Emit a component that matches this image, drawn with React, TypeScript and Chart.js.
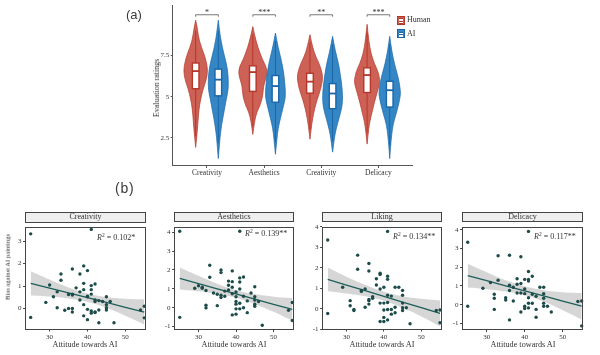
import React, { useEffect, useRef } from "react";
import { Chart, registerables } from "chart.js";
Chart.register(...registerables);

const SERIF = "'Liberation Serif', 'Times New Roman', serif";
const SANS = "'Liberation Sans', Arial, sans-serif";

// ---------------- (a) violin plot data ----------------
const categories = ["Creativity", "Aesthetics", "Creativity", "Delicacy"];
const categoryPositions = [1, 2, 3, 4];
const groups = ["Human", "AI"];
const sigLabels = ["*", "***", "**", "***"];
const topYTicks = [2.5, 5, 7.5];

// order: Human Creativity, AI Creativity, Human Aesthetics, AI Aesthetics, Human Creativity, AI Creativity, Human Delicacy, AI Delicacy
const violinLevels = [
  [1.93, 2.72, 3.5, 4.28, 4.86, 5.45, 6.04, 6.62, 7.21, 7.6, 8.38, 9.16, 9.65],
  [1.25, 1.74, 2.52, 3.31, 4.08, 4.86, 5.45, 6.04, 6.62, 7.21, 7.99, 8.77, 9.65],
  [2.72, 3.5, 4.08, 4.48, 5.06, 5.65, 6.04, 6.43, 6.82, 7.21, 7.99, 8.77, 9.26],
  [1.51, 2.33, 3.11, 3.69, 4.28, 4.86, 5.26, 5.84, 6.43, 7.21, 7.99, 8.87],
  [2.43, 3.11, 3.69, 4.28, 4.86, 5.45, 6.04, 6.43, 7.01, 7.41, 7.99, 8.77],
  [1.64, 2.13, 2.72, 3.31, 3.89, 4.48, 5.06, 5.65, 6.23, 7.01, 7.79, 8.67],
  [2.13, 2.91, 3.5, 4.08, 4.67, 5.26, 5.74, 6.04, 6.53, 7.01, 7.6, 8.38, 9.4],
  [1.25, 2.13, 2.72, 3.31, 3.89, 4.48, 5.06, 5.36, 5.94, 6.43, 7.01, 7.79, 8.67],
];
const violinHalfWidths = [
  [0, 0.023, 0.041, 0.058, 0.088, 0.128, 0.187, 0.213, 0.18, 0.146, 0.061, 0.03, 0],
  [0, 0.012, 0.029, 0.058, 0.099, 0.14, 0.175, 0.175, 0.163, 0.128, 0.07, 0.03, 0],
  [0, 0.03, 0.07, 0.128, 0.175, 0.187, 0.222, 0.25, 0.234, 0.175, 0.088, 0.03, 0],
  [0, 0.023, 0.047, 0.088, 0.128, 0.17, 0.175, 0.163, 0.146, 0.105, 0.047, 0],
  [0, 0.023, 0.047, 0.082, 0.128, 0.187, 0.222, 0.216, 0.163, 0.105, 0.047, 0],
  [0, 0.018, 0.041, 0.082, 0.128, 0.17, 0.175, 0.163, 0.14, 0.105, 0.047, 0],
  [0, 0.023, 0.047, 0.088, 0.128, 0.175, 0.216, 0.222, 0.193, 0.128, 0.07, 0.03, 0],
  [0, 0.018, 0.035, 0.058, 0.105, 0.152, 0.187, 0.187, 0.163, 0.128, 0.082, 0.035, 0],
];
const boxQ1 = [5.49, 5.06, 5.33, 4.67, 5.22, 4.28, 5.26, 4.38];
const boxMedian = [6.56, 6.04, 6.5, 5.65, 5.92, 5.2, 6.32, 5.4];
const boxQ3 = [7.05, 6.68, 6.88, 6.29, 6.43, 5.8, 6.76, 5.94];
const whiskerLow = [2.6, 2.2, 3.2, 2.2, 3.0, 2.3, 2.8, 2.0];
const whiskerHigh = [9.0, 9.0, 8.8, 8.4, 8.3, 8.2, 8.9, 8.2];
const SIG_Y = 9.98;

// ---------------- (b) scatter data ----------------
const panelTitles = ["Creativity", "Aesthetics", "Liking", "Delicacy"];
const r2Labels = ["0.102*", "0.139**", "0.134**", "0.117**"];
const xTicks = [30, 40, 50];

const creativityAttitude = [25, 25, 41, 30, 29, 31, 32, 32, 33, 33, 34, 35, 36, 36, 36, 35, 36, 36, 37, 38, 38, 38, 39, 39, 39, 39, 39, 40, 40, 40, 41, 41, 41, 41, 41, 40, 42, 42, 42, 42, 42, 43, 43, 43, 44, 45, 45, 45, 45, 46, 47, 54, 55, 55, 40];
const creativityBias = [3.33, -0.4, 3.53, 1.05, 0.27, 0.52, 0.74, 0.03, 1.54, 1.26, -0.08, 0.0, 0.0, -0.16, 1.76, 0.62, 0.64, 0.6, 0.92, 0.38, 0.74, 1.54, 1.9, 1.12, 0.84, 0.17, -0.33, 1.69, -0.5, -0.04, -0.11, -0.21, 0.84, 0.64, 1.02, 0.52, 0.31, 1.09, -0.16, -0.18, 0.38, -0.07, -0.64, 0.35, 0.31, 0.52, 0.17, 0.03, -0.07, 0.31, -0.64, -0.07, 0.1, -0.42, 0.55];

const aestheticsAttitude = [25, 25, 41, 29, 30, 31, 31, 32, 32, 32, 33, 33, 34, 35, 35, 36, 36, 36, 36, 37, 38, 38, 38, 39, 39, 39, 39, 39, 40, 40, 40, 40, 40, 40, 41, 41, 41, 41, 41, 42, 42, 42, 43, 43, 44, 45, 45, 45, 45, 45, 46, 47, 54, 55, 55, 37];
const aestheticsBias = [4.05, -0.51, 4.05, 1.03, 1.16, 1.08, 1.03, 0.91, 0.13, -0.01, 2.25, 1.61, 0.78, 0.71, 0.11, 2.0, 1.86, 0.54, 0.66, 0.88, 1.41, 1.19, 0.94, 1.95, 1.38, 1.08, 0.74, -0.38, 0.83, 0.58, 0.33, 0.19, -0.06, -0.34, 0.99, 1.58, 1.36, 0.24, -0.06, 1.63, 0.61, 0.0, 0.36, -0.26, 0.78, 1.11, 0.58, 0.41, 0.19, 0.08, 0.33, -0.93, -0.14, 0.28, -0.68, 0.61];

const likingAttitude = [25, 25, 41, 29, 31, 31, 32, 32, 33, 33, 34, 34, 35, 35, 36, 36, 36, 36, 37, 38, 38, 39, 39, 39, 39, 39, 40, 40, 40, 40, 41, 41, 41, 41, 41, 41, 42, 42, 42, 43, 43, 43, 44, 45, 45, 45, 45, 45, 46, 47, 54, 55, 55, 40, 37, 36];
const likingBias = [3.36, -0.23, 3.78, 1.05, 0.15, 0.4, -0.03, -0.08, 2.62, 1.93, 0.85, 0.9, 0.97, 0.08, 2.21, 1.85, 0.4, 0.23, 0.51, 1.47, 1.16, 1.74, 1.67, 0.97, 0.28, -0.62, 1.05, 0.28, -0.06, -0.42, 1.59, 1.44, 0.66, 0.31, -0.03, -0.54, 0.62, -0.03, -0.26, 1.05, 0.08, -0.19, 1.05, 0.9, 0.66, 0.28, 0.05, -0.08, 0.05, -0.73, -0.08, -0.06, -0.68, -0.62, 0.59, 0.46];

const delicacyAttitude = [25, 25, 41, 29, 31, 32, 32, 32, 33, 33, 35, 35, 36, 36, 36, 36, 37, 37, 38, 38, 39, 39, 39, 39, 40, 40, 40, 40, 41, 41, 41, 41, 41, 41, 42, 42, 42, 43, 43, 44, 45, 45, 45, 45, 45, 46, 47, 54, 55, 55, 38, 43, 40];
const delicacyBias = [3.33, -0.08, 3.91, 0.88, 1.18, 0.56, 0.34, -0.25, 2.61, 1.3, 0.37, 0.25, 2.64, -0.81, 0.76, 1.04, 0.2, 0.93, 1.38, 1.09, 2.56, 1.13, 0.62, -0.39, 0.59, 1.35, -0.08, -0.2, 1.35, 1.26, 1.77, 0.37, -0.17, 0.08, 0.08, 1.52, 0.56, -0.25, -0.67, 0.93, 0.93, 0.59, 0.34, 0.08, -0.08, -0.08, -0.39, 0.17, 0.2, -1.13, 0.62, 0.45, 0.84];

// fitted line and 95% band read at these attitude values
const fitAttitude = [25, 30, 35, 40, 45, 50, 55];
const creativityFit = [1.12, 0.91, 0.69, 0.48, 0.27, 0.05, -0.16];
const creativityUpper = [1.66, 1.29, 0.94, 0.67, 0.51, 0.43, 0.4];
const creativityLower = [0.58, 0.53, 0.44, 0.29, 0.03, -0.33, -0.72];
const aestheticsFit = [1.55, 1.28, 1.0, 0.73, 0.46, 0.18, -0.09];
const aestheticsUpper = [2.13, 1.69, 1.27, 0.93, 0.72, 0.58, 0.51];
const aestheticsLower = [0.97, 0.87, 0.73, 0.53, 0.2, -0.22, -0.69];
const likingFit = [1.44, 1.16, 0.89, 0.61, 0.33, 0.06, -0.22];
const likingUpper = [2.02, 1.57, 1.17, 0.83, 0.61, 0.49, 0.41];
const likingLower = [0.86, 0.75, 0.61, 0.39, 0.05, -0.37, -0.85];
const delicacyFit = [1.55, 1.28, 1.0, 0.74, 0.47, 0.19, -0.08];
const delicacyUpper = [2.18, 1.73, 1.3, 0.98, 0.77, 0.67, 0.62];
const delicacyLower = [0.92, 0.83, 0.7, 0.5, 0.17, -0.29, -0.78];

const panelYTicks = [[0, 1, 2, 3], [-1, 0, 1, 2, 3, 4], [-1, 0, 1, 2, 3, 4], [-1, 0, 1, 2, 3, 4]];
const panelYMin = [-0.94, -1.18, -1.01, -1.35];
const panelYMax = [3.65, 4.29, 4.01, 4.16];
const X_MIN = 23.5;
const X_MAX = 55.4;

const panelAttitudes = [creativityAttitude, aestheticsAttitude, likingAttitude, delicacyAttitude];
const panelBiases = [creativityBias, aestheticsBias, likingBias, delicacyBias];
const panelFits = [creativityFit, aestheticsFit, likingFit, delicacyFit];
const panelUppers = [creativityUpper, aestheticsUpper, likingUpper, delicacyUpper];
const panelLowers = [creativityLower, aestheticsLower, likingLower, delicacyLower];

// ---------------- styling / layout ----------------
const HUMAN_FILL = "rgba(192,57,43,0.8)";
const HUMAN_LINE = "#B5372A";
const AI_FILL = "rgba(30,122,190,0.9)";
const AI_LINE = "#1A66A8";
const DODGE = 0.198;
const BOX_HALF = 0.058;
const POINT_COLOR = "#1C4B49";
const FIT_COLOR = "#1E5E59";
const BAND_COLOR = "rgba(153,153,153,0.4)";
const AXIS_COLOR = "#555";
const TEXT_COLOR = "#333";

const PANEL_BOX = [
  { L: 25.0, R: 145.8, T: 221.5, B: 329.5 },
  { L: 174.1, R: 293.8, T: 221.0, B: 330.0 },
  { L: 322.1, R: 441.5, T: 221.0, B: 329.5 },
  { L: 462.0, R: 583.2, T: 221.0, B: 330.0 },
];
const STRIP_TOP = 211.7;

function smoothSide(ctx: any, pts: number[][], first: boolean) {
  if (first) ctx.moveTo(pts[0][0], pts[0][1]);
  else ctx.lineTo(pts[0][0], pts[0][1]);
  for (let i = 1; i < pts.length - 1; i++) {
    const p = pts[i];
    const n = pts[i + 1];
    ctx.quadraticCurveTo(p[0], p[1], (p[0] + n[0]) / 2, (p[1] + n[1]) / 2);
  }
  const last = pts[pts.length - 1];
  ctx.lineTo(last[0], last[1]);
}

const violinPlugin = {
  id: "violins",
  afterDatasetsDraw(chart: any) {
    const { ctx } = chart;
    const x = chart.scales.x;
    const y = chart.scales.y;
    ctx.save();
    for (let v = 0; v < violinLevels.length; v++) {
      const cat = Math.floor(v / 2);
      const g = v % 2;
      const cx = categoryPositions[cat] + (g === 0 ? -DODGE : DODGE);
      const fill = g === 0 ? HUMAN_FILL : AI_FILL;
      const line = g === 0 ? HUMAN_LINE : AI_LINE;
      const lev = violinLevels[v];
      const hw = violinHalfWidths[v];
      const right = lev.map((l, i) => [x.getPixelForValue(cx + hw[i]), y.getPixelForValue(l)]);
      const left = lev.map((l, i) => [x.getPixelForValue(cx - hw[i]), y.getPixelForValue(l)]).reverse();
      ctx.beginPath();
      smoothSide(ctx, right, true);
      smoothSide(ctx, left, false);
      ctx.closePath();
      ctx.fillStyle = fill;
      ctx.fill();
      ctx.strokeStyle = line;
      ctx.lineWidth = 0.7;
      ctx.stroke();

      const px = x.getPixelForValue(cx);
      ctx.beginPath();
      ctx.moveTo(px, y.getPixelForValue(whiskerLow[v]));
      ctx.lineTo(px, y.getPixelForValue(whiskerHigh[v]));
      ctx.lineWidth = 1;
      ctx.strokeStyle = line;
      ctx.stroke();

      const bl = x.getPixelForValue(cx - BOX_HALF);
      const br = x.getPixelForValue(cx + BOX_HALF);
      const bt = y.getPixelForValue(boxQ3[v]);
      const bb = y.getPixelForValue(boxQ1[v]);
      ctx.fillStyle = "#ffffff";
      ctx.fillRect(bl, bt, br - bl, bb - bt);
      ctx.lineWidth = 1.4;
      ctx.strokeRect(bl, bt, br - bl, bb - bt);
      const my = y.getPixelForValue(boxMedian[v]);
      ctx.beginPath();
      ctx.moveTo(bl, my);
      ctx.lineTo(br, my);
      ctx.lineWidth = 1.8;
      ctx.stroke();
    }
    // significance brackets
    ctx.strokeStyle = "#555";
    ctx.lineWidth = 0.8;
    ctx.fillStyle = TEXT_COLOR;
    ctx.font = `8px ${SERIF}`;
    ctx.textAlign = "center";
    ctx.textBaseline = "alphabetic";
    for (let c = 0; c < categoryPositions.length; c++) {
      const x1 = x.getPixelForValue(categoryPositions[c] - DODGE);
      const x2 = x.getPixelForValue(categoryPositions[c] + DODGE);
      const yb = y.getPixelForValue(SIG_Y);
      const yd = y.getPixelForValue(SIG_Y - 0.12);
      ctx.beginPath();
      ctx.moveTo(x1, yd);
      ctx.lineTo(x1, yb);
      ctx.lineTo(x2, yb);
      ctx.lineTo(x2, yd);
      ctx.stroke();
      ctx.fillText(sigLabels[c], (x1 + x2) / 2, yb + 0.5);
    }
    ctx.restore();
  },
};

const framePlugin = {
  id: "frame",
  afterDraw(chart: any) {
    const { ctx, chartArea: a } = chart;
    ctx.save();
    ctx.strokeStyle = "#444";
    ctx.lineWidth = 1;
    const l = Math.round(a.left) + 0.5;
    const t = Math.round(a.top) + 0.5;
    const r = Math.round(a.right) - 0.5;
    const b = Math.round(a.bottom) - 0.5;
    ctx.strokeRect(l, t, r - l, b - t);
    ctx.restore();
  },
};

function ViolinChart() {
  const ref = useRef<HTMLCanvasElement | null>(null);
  useEffect(() => {
    const chart = new Chart(ref.current as any, {
      type: "scatter",
      data: { datasets: [] },
      options: {
        responsive: false,
        animation: false,
        events: [],
        layout: { padding: { left: 0, right: 7.3, top: 0, bottom: 0 }, autoPadding: false },
        plugins: { legend: { display: false }, tooltip: { enabled: false } },
        scales: {
          x: {
            type: "linear",
            min: 0.4,
            max: 4.6,
            bounds: "data",
            afterBuildTicks: (s: any) => {
              s.ticks = categoryPositions.map((v) => ({ value: v }));
            },
            afterFit: (s: any) => {
              s.height = 20;
            },
            ticks: {
              callback: (_v: any, i: number) => categories[i],
              font: { family: SERIF, size: 7.5 },
              color: TEXT_COLOR,
              padding: 1,
              maxRotation: 0,
              autoSkip: false,
            },
            grid: { drawOnChartArea: false, drawTicks: true, tickLength: 3, color: AXIS_COLOR },
            border: { display: true, color: AXIS_COLOR, width: 1 },
          },
          y: {
            type: "linear",
            min: 0.86,
            max: 10.53,
            bounds: "data",
            afterBuildTicks: (s: any) => {
              s.ticks = topYTicks.map((v) => ({ value: v }));
            },
            afterFit: (s: any) => {
              s.width = 52.7;
            },
            ticks: {
              callback: (v: any) => String(v),
              font: { family: SERIF, size: 7 },
              color: TEXT_COLOR,
              padding: 1.5,
              autoSkip: false,
            },
            grid: { drawOnChartArea: false, drawTicks: true, tickLength: 2, color: AXIS_COLOR },
            border: { display: true, color: AXIS_COLOR, width: 1 },
          },
        },
      },
      plugins: [violinPlugin],
    } as any);
    return () => chart.destroy();
  }, []);
  return (
    <canvas
      ref={ref}
      width={300}
      height={185}
      style={{ position: "absolute", left: 120, top: 0, width: 300, height: 185 }}
    />
  );
}

function ScatterPanel({ i }: { i: number }) {
  const ref = useRef<HTMLCanvasElement | null>(null);
  const box = PANEL_BOX[i];
  const cl = Math.floor(box.L) - 24;
  const ct = Math.floor(box.T);
  const cw = Math.ceil(box.R) + 4 - cl;
  const chh = Math.ceil(box.B) + 16 - ct;
  useEffect(() => {
    const pts = panelAttitudes[i].map((x, k) => ({ x, y: panelBiases[i][k] }));
    const fit = fitAttitude.map((x, k) => ({ x, y: panelFits[i][k] }));
    const up = fitAttitude.map((x, k) => ({ x, y: panelUppers[i][k] }));
    const lo = fitAttitude.map((x, k) => ({ x, y: panelLowers[i][k] }));
    const chart = new Chart(ref.current as any, {
      type: "line",
      data: {
        datasets: [
          {
            data: pts,
            showLine: false,
            pointRadius: 1.7,
            pointBackgroundColor: POINT_COLOR,
            pointBorderWidth: 0,
            borderWidth: 0,
            clip: false,
          },
          {
            data: fit,
            borderColor: FIT_COLOR,
            borderWidth: 1.3,
            pointRadius: 0,
            fill: false,
            tension: 0,
          },
          {
            data: up,
            borderWidth: 0,
            borderColor: "rgba(0,0,0,0)",
            pointRadius: 0,
            fill: "+1",
            backgroundColor: BAND_COLOR,
            tension: 0.4,
          },
          {
            data: lo,
            borderWidth: 0,
            borderColor: "rgba(0,0,0,0)",
            pointRadius: 0,
            fill: false,
            tension: 0.4,
          },
        ],
      },
      options: {
        responsive: false,
        animation: false,
        events: [],
        layout: {
          padding: { left: 0, top: box.T - ct, right: cl + cw - box.R, bottom: 0 },
          autoPadding: false,
        },
        plugins: { legend: { display: false }, tooltip: { enabled: false } },
        scales: {
          x: {
            type: "linear",
            min: X_MIN,
            max: X_MAX,
            bounds: "data",
            afterBuildTicks: (s: any) => {
              s.ticks = xTicks.map((v) => ({ value: v }));
            },
            afterFit: (s: any) => {
              s.height = ct + chh - box.B;
            },
            ticks: {
              callback: (v: any) => String(v),
              font: { family: SERIF, size: 7 },
              color: TEXT_COLOR,
              padding: 1,
              maxRotation: 0,
              autoSkip: false,
            },
            grid: { drawOnChartArea: false, drawTicks: true, tickLength: 2, color: "#444" },
            border: { display: false },
          },
          y: {
            type: "linear",
            min: panelYMin[i],
            max: panelYMax[i],
            bounds: "data",
            afterBuildTicks: (s: any) => {
              s.ticks = panelYTicks[i].map((v) => ({ value: v }));
            },
            afterFit: (s: any) => {
              s.width = box.L - cl;
            },
            ticks: {
              callback: (v: any) => String(v),
              font: { family: SERIF, size: 7 },
              color: TEXT_COLOR,
              padding: 1.5,
              autoSkip: false,
            },
            grid: { drawOnChartArea: false, drawTicks: true, tickLength: 2, color: "#444" },
            border: { display: false },
          },
        },
      },
      plugins: [framePlugin],
    } as any);
    return () => chart.destroy();
  }, [i]);
  return (
    <canvas
      ref={ref}
      width={cw}
      height={chh}
      style={{ position: "absolute", left: cl, top: ct, width: cw, height: chh }}
    />
  );
}

function LegendIcon({ top, fill, line }: { top: number; fill: string; line: string }) {
  return (
    <div
      style={{
        position: "absolute",
        left: 397.3,
        top,
        width: 8,
        height: 9,
        background: fill,
        border: `1px solid ${line}`,
        boxSizing: "border-box",
      }}
    >
      <div
        style={{
          position: "absolute",
          left: 1,
          top: 1.5,
          width: 4,
          height: 4,
          background: "#fff",
          borderTop: `1px solid ${line}`,
          borderBottom: `1px solid ${line}`,
          boxSizing: "content-box",
        }}
      >
        <div style={{ position: "absolute", left: 0, top: 1.5, width: 4, height: 1, background: line }} />
      </div>
    </div>
  );
}

export default function App() {
  const abs: any = { position: "absolute", whiteSpace: "nowrap", lineHeight: 1, willChange: "transform" };
  return (
    <div
      style={{
        position: "fixed",
        left: 0,
        top: 0,
        width: 600,
        height: 355,
        overflow: "hidden",
        background: "#fff",
        fontFamily: SERIF,
        color: TEXT_COLOR,
      }}
    >
      <div style={{ ...abs, left: 126, top: 8, fontFamily: SANS, fontSize: 13, color: "#3a3a3a" }}>(a)</div>
      <div style={{ ...abs, left: 115, top: 180.5, fontFamily: SANS, fontSize: 14, color: "#3a3a3a", letterSpacing: 0.8 }}>(b)</div>

      <ViolinChart />
      <div
        style={{
          ...abs,
          left: 156.7,
          top: 88,
          fontSize: 8,
          transform: "translate(-50%, -50%) rotate(-90deg)",
        }}
      >
        Evaluation ratings
      </div>

      <LegendIcon top={15.7} fill={HUMAN_FILL} line={HUMAN_LINE} />
      <div style={{ ...abs, left: 407.3, top: 16.2, fontSize: 8 }}>{groups[0]}</div>
      <LegendIcon top={29.3} fill={AI_FILL} line={AI_LINE} />
      <div style={{ ...abs, left: 407.3, top: 29.8, fontSize: 8 }}>{groups[1]}</div>

      <div
        style={{
          ...abs,
          left: 8.3,
          top: 266.7,
          fontSize: 6.6,
          transform: "translate(-50%, -50%) rotate(-90deg)",
        }}
      >
        Bias against AI paintings
      </div>

      {PANEL_BOX.map((b, i) => (
        <React.Fragment key={i}>
          <ScatterPanel i={i} />
          <div
            style={{
              position: "absolute",
              left: Math.round(b.L),
              top: STRIP_TOP,
              width: Math.round(b.R) - Math.round(b.L),
              height: Math.round(b.T) - STRIP_TOP + 1,
              boxSizing: "border-box",
              border: "1px solid #444",
              background: "#EFEFEF",
              fontSize: 8,
              lineHeight: "8.5px",
              textAlign: "center",
              willChange: "transform",
            }}
          >
            {panelTitles[i]}
          </div>
          <div
            style={{
              ...abs,
              left: (b.L + b.R) / 2,
              top: 344.5,
              fontSize: 8.2,
              transform: "translate(-50%, -50%)",
            }}
          >
            Attitude towards AI
          </div>
          <div
            style={{
              ...abs,
              left: b.R - 49,
              top: [237.7, 234.3, 236.7, 237.3][i],
              fontSize: 8,
              transform: "translateY(-50%)",
            }}
          >
            <span style={{ fontStyle: "italic" }}>R</span>
            <span style={{ fontSize: 5.5, position: "relative", top: -3 }}>2</span>
            {" = " + r2Labels[i]}
          </div>
        </React.Fragment>
      ))}
    </div>
  );
}
